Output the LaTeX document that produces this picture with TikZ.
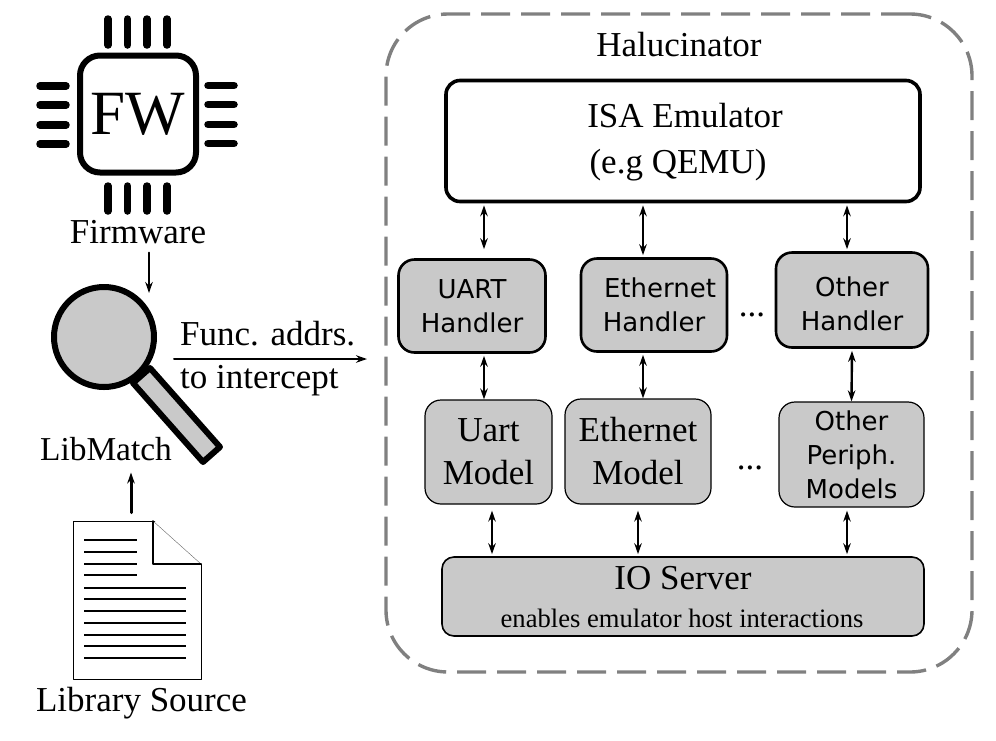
\documentclass[tikz,border=0pt]{standalone}
\usepackage{fontspec}
\setmainfont{Liberation Serif}
\newfontfamily\handlerfont{DejaVu Sans}
\usetikzlibrary{arrows.meta}
\colorlet{mygray}{black!21}
\colorlet{mydash}{black!50}
\tikzset{>={Stealth[length=11pt,width=7.5pt]}}

\begin{document}
\begin{tikzpicture}[x=1pt, y=-1pt, line cap=round, line join=round,
                txt/.style={font=\fontsize{35}{43}\selectfont, align=center, inner sep=0pt},
                box/.style={draw=black, fill=mygray, line width=1.6pt, rounded corners=16pt, inner sep=0pt, align=center,
                    font=\fontsize{35}{43}\selectfont},
                handler/.style={box, line width=2.6pt, font=\handlerfont\fontsize{26}{34}\selectfont},
                link/.style={black, line width=2pt, <->},
                feed/.style={black, line width=1.9pt, ->},
                pin/.style={line width=7.5pt}]
                \useasboundingbox (0,0) rectangle (996,740);

                % firmware chip
                \node[draw=black, line width=6pt, rounded corners=20pt, minimum width=116pt, minimum height=117pt,
                    inner sep=0pt, font=\fontsize{63}{70}\selectfont] (chip) at (138,114) {FW};
                \foreach \p in {108,127.5,147,167}{
                    \draw[pin] (\p,19) -- (\p,45);
                    \draw[pin] (\p,186) -- (\p,211);
                }
                \foreach \p in {86,105,125,144}{
                    \draw[pin] (40,\p) -- (66,\p);
                    \draw[pin] (208,\p-0.5) -- (234,\p-0.5);
                }
                \node[txt, anchor=base] (firmware) at (138,243) {Firmware};

                % magnifier
                \draw[fill=mygray, line width=6pt] (150,368) -- (220,447) -- (203,462) -- (133,383) -- cycle;
                \node[circle, draw=black, fill=mygray, line width=6pt, minimum size=100pt, inner sep=0pt] (lens) at (104,337) {};
                \node[txt, anchor=base, font=\fontsize{33.4}{40}\selectfont] (libmatch) at (106,460) {LibMatch};
                \coordinate (lenstop) at (149,293);
                \draw[feed] (firmware.south -| lenstop) ++(0,9) -- (lenstop);

                % library source page
                \node[draw=black, line width=1pt, minimum width=128pt, minimum height=158pt, inner sep=0pt] (page) at (137,600) {};
                \fill[white] (153.5,520) -- (202,520) -- (202,564) -- cycle;
                \draw[line width=0.4pt, black!60] (153,521) -- (201,564);
                \draw[line width=1.6pt] (153,521) -- (153,564) -- (201,564);
                \foreach \p in {540,552,564,575}{
                    \draw[line width=1.5pt, line cap=butt] (84,\p) -- (137,\p);
                }
                \foreach \p in {587.5,599,611,623,634.5,646,658}{
                    \draw[line width=2pt, line cap=butt] (84,\p) -- (186,\p);
                }
                \node[txt, anchor=base] (source) at (141.5,711) {Library Source};
                \draw[black, line width=3pt, ->] ([xshift=-6pt,yshift=8pt]page.north) -- ++(0,-40);

                % function addresses
                \coordinate (funcstart) at (174,359);
                \coordinate (funcend) at (367,359);
                \draw[black, line width=2pt, ->] (funcstart) -- (funcend);
                \node[txt, anchor=base west] (func) at (180,345) {Func. addrs.};
                \node[txt, anchor=base west] (intercept) at (180,388) {to intercept};

                % halucinator
                \node[draw=mydash, line width=3.4pt, dash pattern=on 29pt off 11pt, line cap=butt, rounded corners=62pt,
                    minimum width=586pt, minimum height=658pt, inner sep=0pt] (hal) at (679,343) {};
                \node[txt, anchor=base] (title) at (679,56) {Halucinator};
                \node[box, fill=white, line width=3.6pt, rounded corners=14pt, minimum width=474pt, minimum height=121pt] (isa) at (683,141)
                    {\rule{0pt}{27pt}\hspace*{4pt}ISA Emulator\\[3pt](e.g QEMU)\hspace*{10pt}};

                % handlers
                \node[handler, minimum width=147pt, minimum height=93pt] (uarth) at (472,306) {UART\\Handler};
                \node[handler, minimum width=146pt, minimum height=93pt] (ethh) at (654,305) {\hspace*{12pt}Ethernet\\Handler};
                \node[handler, minimum width=152pt, minimum height=95pt] (otherh) at (852,300) {\rule{0pt}{27pt}Other\\Handler};
                \node[txt, anchor=base] (dotsh) at (752,316) {...};

                % models
                \node[box, line width=1.2pt, minimum width=127pt, minimum height=104pt] (uartm) at (488.5,452) {Uart\\Model};
                \node[box, line width=1.2pt, minimum width=146pt, minimum height=105pt] (ethm) at (638,451.5) {Ethernet\\Model};
                \node[box, line width=1.2pt, minimum width=145pt, minimum height=105pt, font=\handlerfont\fontsize{26}{34}\selectfont] (otherm) at (851.5,454.5)
                    {Other\\Periph.\\Models};
                \node[txt, anchor=base] (dotsm) at (750,469) {...};

                % io server
                \node[box, line width=1.6pt, rounded corners=12pt, minimum width=482pt, minimum height=79pt] (io) at (683,596.5) {};
                \node[txt, anchor=base] (iotitle) at (683,589) {IO Server};
                \node[txt, anchor=base, font=\fontsize{26.6}{30}\selectfont] (iosub) at (682,627) {enables emulator host interactions};

                % links
                \draw[link] ([xshift=-199pt,yshift=-2pt]isa.south) -- ([xshift=12pt,yshift=9pt]uarth.north);
                \draw[link] ([xshift=-40pt,yshift=-2pt]isa.south) -- ([xshift=-11pt,yshift=2pt]ethh.north);
                \draw[link] ([xshift=164pt,yshift=-2pt]isa.south) -- ([xshift=-5pt,yshift=2pt]otherh.north);
                \draw[link, line width=2.4pt] ([xshift=12pt,yshift=-2pt]uarth.south) -- ([xshift=12pt]uarth.south |- uartm.north);
                \draw[link, line width=2.4pt] ([xshift=-11pt,yshift=-2pt]ethh.south) -- ([xshift=-11pt]ethh.south |- ethm.north);
                \draw[link, line width=2.4pt] ([yshift=-2pt]otherh.south) -- (otherm.north);
                \draw[link] ([xshift=3.5pt,yshift=-6pt]uartm.south) -- ([xshift=3.5pt,yshift=2pt]uartm.south |- io.north);
                \draw[link] ([yshift=-6pt]ethm.south) -- ([yshift=2pt]ethm.south |- io.north);
                \draw[link] ([xshift=-4.5pt,yshift=-3pt]otherm.south) -- ([xshift=-4.5pt,yshift=2pt]otherm.south |- io.north);
\end{tikzpicture}
\end{document}
